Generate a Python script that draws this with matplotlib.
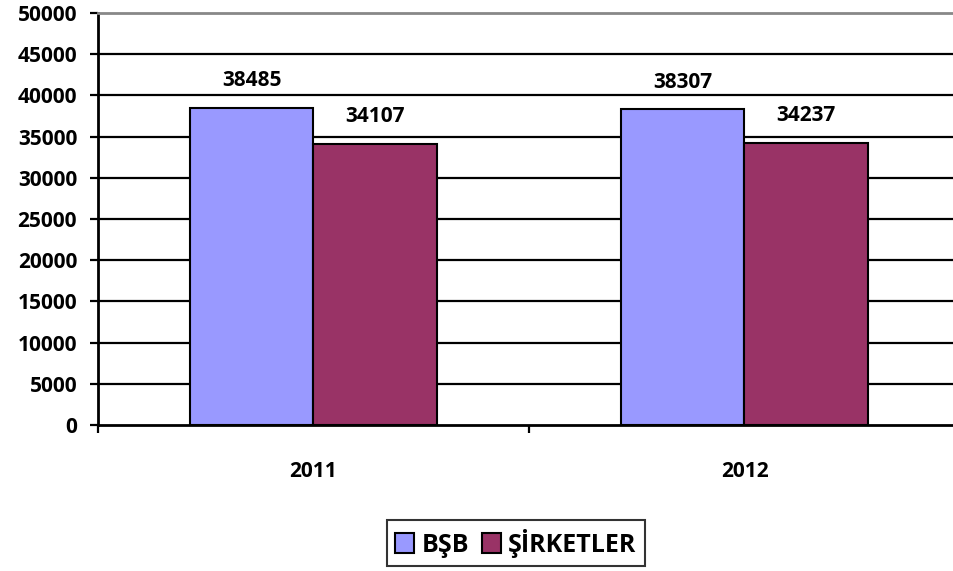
import numpy as np
import matplotlib.pyplot as plt
from matplotlib.patches import Patch

plt.rcParams['font.family'] = ['Open Sans', 'DejaVu Sans']
plt.rcParams['font.weight'] = 'bold'

# veriler
years = ['2011', '2012']
bsb = [38485, 38307]
sirketler = [34107, 34237]
series_names = ['BŞB', 'ŞİRKETLER']
colors = ['#9999FF', '#993366']
y_ticks = list(range(0, 50001, 5000))

fig = plt.figure(figsize=(9.54, 5.71), dpi=100)
ax = fig.add_axes([98 / 954, 1 - 425 / 571, 862 / 954, 412 / 571])

x = np.arange(len(years))
w = 0.286
b1 = ax.bar(x - w / 2, bsb, w, color=colors[0], edgecolor='black', linewidth=1.5, zorder=3)
b2 = ax.bar(x + w / 2, sirketler, w, color=colors[1], edgecolor='black', linewidth=1.5, zorder=3)

for bars, vals in ((b1, bsb), (b2, sirketler)):
    for r, v in zip(bars, vals):
        ax.annotate(str(v), (r.get_x() + r.get_width() / 2, v), xytext=(0, 12),
                    textcoords='offset points', ha='center', va='bottom',
                    fontsize=15, fontweight='bold')

# yatay cizgiler
for yv in y_ticks[1:-1]:
    ax.axhline(yv, color='black', linewidth=1.6, zorder=1)

ax.set_ylim(0, 50000)
ax.set_xlim(-0.5, 1.5)
ax.set_yticks(y_ticks)
ax.set_yticklabels([str(v) for v in y_ticks], fontsize=15, fontweight='bold')
ax.tick_params(axis='y', length=6, width=1.6, pad=9)

ax.set_xticks(x)
ax.set_xticklabels(years, fontsize=15, fontweight='bold')
ax.set_xticks([-0.5, 0.5, 1.5], minor=True)
ax.tick_params(axis='x', which='major', length=0, pad=26)
ax.tick_params(axis='x', which='minor', length=6, width=1.6)

ax.spines['right'].set_visible(False)
ax.spines['top'].set_color('#888888')
ax.spines['top'].set_linewidth(2)
ax.spines['left'].set_linewidth(2)
ax.spines['bottom'].set_linewidth(2)

handles = [Patch(facecolor=c, edgecolor='black', linewidth=1.5) for c in colors]
leg = fig.legend(handles, series_names, loc='center', bbox_to_anchor=(516 / 954, 1 - 543 / 571),
                 ncol=2, frameon=True, fancybox=False, edgecolor='black',
                 prop={'size': 18, 'weight': 'bold'}, handlelength=0.75, handleheight=0.85,
                 handletextpad=0.3, columnspacing=0.5, borderpad=0.35)
leg.get_frame().set_linewidth(1.5)

fig.savefig('out.png', dpi=100)
